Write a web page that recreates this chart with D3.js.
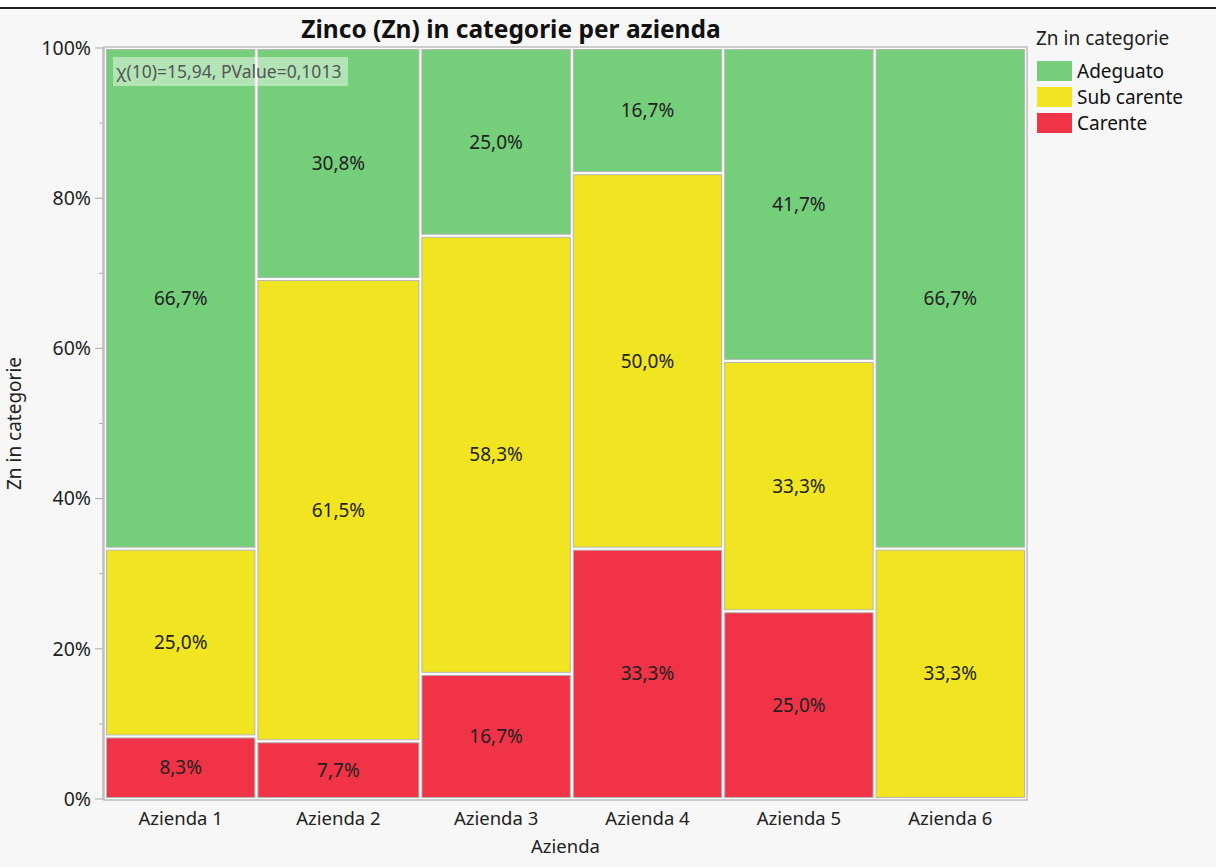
<!DOCTYPE html>
<html>
<head>
<meta charset="utf-8">
<script src="https://cdn.jsdelivr.net/npm/d3@7"></script>
<style>
  html, body { margin: 0; padding: 0; background: #f7f7f7; }
  svg { display: block; font-family: "Noto Sans", "Open Sans", sans-serif; }
</style>
</head>
<body>
<svg id="chart" width="1216" height="867"></svg>
<script>
// Data: counts per azienda, by category (read from the percentages)
var aziende = ["Azienda 1", "Azienda 2", "Azienda 3", "Azienda 4", "Azienda 5", "Azienda 6"];
var categories = ["Carente", "Sub carente", "Adeguato"];   // bottom to top
var carente    = [1, 1, 2, 4, 3, 0];
var subCarente = [3, 8, 7, 6, 4, 4];
var adeguato   = [8, 4, 3, 2, 5, 8];
var legendOrder = ["Adeguato", "Sub carente", "Carente"];
var yTicks = [0, 0.2, 0.4, 0.6, 0.8, 1];
var statText = "\u03c7(10)=15,94, PValue=0,1013";

var colors = { "Adeguato": "#74ce7a", "Sub carente": "#f0e520", "Carente": "#f03346" };

var svg = d3.select("#chart");
var W = 1216, H = 867;

// top border bar
svg.append("rect").attr("x", 0).attr("y", 0).attr("width", W).attr("height", 7).attr("fill", "#ffffff");
svg.append("line").attr("x1", 0).attr("x2", W).attr("y1", 8).attr("y2", 8)
  .attr("stroke", "#222").attr("stroke-width", 2);

var plot = { left: 105, right: 1026, top: 48, bottom: 799 };

var series = { "Carente": carente, "Sub carente": subCarente, "Adeguato": adeguato };
var totals = aziende.map((a, i) => carente[i] + subCarente[i] + adeguato[i]);
var cumTotals = [0];
totals.forEach(t => cumTotals.push(cumTotals[cumTotals.length - 1] + t));

var x = d3.scaleLinear().domain([0, d3.sum(totals)]).range([plot.left, plot.right]);
var y = d3.scaleLinear().domain([0, 1]).range([plot.bottom, plot.top]);

// build cells
var cells = [];
aziende.forEach((a, i) => {
  var acc = 0;
  categories.forEach(c => {
    var p = series[c][i] / totals[i];
    if (p > 0) cells.push({ azienda: a, cat: c, x0: cumTotals[i], x1: cumTotals[i + 1], y0: acc, y1: acc + p, p: p });
    acc += p;
  });
});

// plot frame
svg.append("rect")
  .attr("x", plot.left - 1).attr("y", plot.top - 1)
  .attr("width", plot.right - plot.left + 2).attr("height", plot.bottom - plot.top + 2)
  .attr("fill", "#ffffff").attr("stroke", "#bdbdbd").attr("stroke-width", 1.5);

var gap = 1.5;
svg.append("g").selectAll("rect").data(cells).enter().append("rect")
  .attr("x", d => x(d.x0) + gap)
  .attr("y", d => y(d.y1) + gap)
  .attr("width", d => x(d.x1) - x(d.x0) - 2 * gap)
  .attr("height", d => y(d.y0) - y(d.y1) - 2 * gap)
  .attr("fill", d => colors[d.cat])
  .attr("stroke", "#b5b5b5")
  .attr("stroke-width", 1);

var fmt = v => (v * 100).toFixed(1).replace(".", ",") + "%";
svg.append("g").selectAll("text").data(cells).enter().append("text")
  .attr("x", d => (x(d.x0) + x(d.x1)) / 2)
  .attr("y", d => (y(d.y0) + y(d.y1)) / 2)
  .attr("dy", "0.35em")
  .attr("text-anchor", "middle")
  .attr("font-size", 19)
  .attr("fill", "#222")
  .text(d => fmt(d.p));

// stat annotation
var stat = svg.append("g");
stat.append("rect").attr("x", 113).attr("y", 57).attr("width", 235).attr("height", 29)
  .attr("fill", "rgba(255,255,255,0.45)");
stat.append("text").attr("x", 116).attr("y", 78).attr("font-size", 17.5).attr("fill", "#555")
  .text(statText);

// y axis
var yAxis = svg.append("g").attr("transform", "translate(" + (plot.left - 2) + ",0)");
yAxis.append("line").attr("x1", 0).attr("x2", 0).attr("y1", plot.top - 1).attr("y2", plot.bottom + 1)
  .attr("stroke", "#bdbdbd").attr("stroke-width", 1.5);
d3.range(0, 1.0001, 0.1).forEach(v => {
  var major = Math.round(v * 10) % 2 === 0;
  yAxis.append("line").attr("x1", major ? -8 : -4).attr("x2", 0)
    .attr("y1", y(v)).attr("y2", y(v)).attr("stroke", "#aaa").attr("stroke-width", 1);
});
yAxis.selectAll("text.tick").data(yTicks).enter().append("text")
  .attr("x", -12).attr("y", d => y(d)).attr("dy", "0.35em")
  .attr("text-anchor", "end").attr("font-size", 19.5).attr("fill", "#222")
  .text(d => Math.round(d * 100) + "%");

svg.append("text")
  .attr("transform", "translate(21," + ((plot.top + plot.bottom) / 2) + ") rotate(-90)")
  .attr("text-anchor", "middle").attr("font-size", 19).attr("fill", "#222")
  .text("Zn in categorie");

// x axis labels
svg.append("g").selectAll("text").data(aziende).enter().append("text")
  .attr("x", (d, i) => (x(cumTotals[i]) + x(cumTotals[i + 1])) / 2)
  .attr("y", 825)
  .attr("text-anchor", "middle").attr("font-size", 18.5).attr("fill", "#222")
  .text(d => d);
svg.append("text").attr("x", (plot.left + plot.right) / 2).attr("y", 853)
  .attr("text-anchor", "middle").attr("font-size", 18.5).attr("fill", "#222")
  .text("Azienda");

// title
svg.append("text").attr("x", 511).attr("y", 38)
  .attr("text-anchor", "middle").attr("font-size", 24.5).attr("font-weight", "bold").attr("fill", "#111")
  .text("Zinco (Zn) in categorie per azienda");

// legend
var lg = svg.append("g").attr("transform", "translate(1036,0)");
lg.append("text").attr("x", 0).attr("y", 45).attr("font-size", 19).attr("fill", "#222").text("Zn in categorie");
legendOrder.forEach((c, i) => {
  lg.append("rect").attr("x", 1).attr("y", 61 + i * 26).attr("width", 35).attr("height", 20)
    .attr("fill", colors[c]);
  lg.append("text").attr("x", 41).attr("y", 71 + i * 26).attr("dy", "0.35em")
    .attr("font-size", 19).attr("fill", "#111").text(c);
});
</script>
</body>
</html>
